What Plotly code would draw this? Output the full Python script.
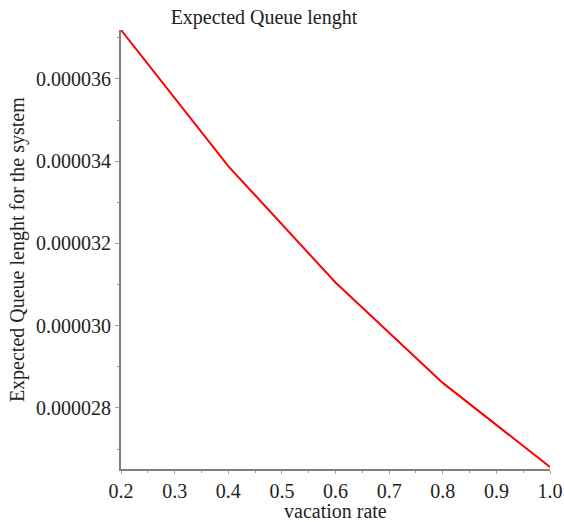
import plotly.graph_objects as go

vacation_rate = [0.2, 0.4, 0.6, 0.8, 1.0]
queue_length = [3.719e-5, 3.388e-5, 3.105e-5, 2.861e-5, 2.6565e-5]

x_ticks = [0.2, 0.3, 0.4, 0.5, 0.6, 0.7, 0.8, 0.9, 1.0]
x_tick_labels = ["0.2", "0.3", "0.4", "0.5", "0.6", "0.7", "0.8", "0.9", "1.0"]
y_ticks = [0.000028, 0.000030, 0.000032, 0.000034, 0.000036]
y_tick_labels = ["0.000028", "0.000030", "0.000032", "0.000034", "0.000036"]

title_text = "Expected Queue lenght"
x_title = "vacation rate"
y_title = "Expected Queue lenght for the system"

font_family = "Liberation Serif, Times New Roman, serif"
txt_color = "#222222"

fig = go.Figure()
fig.add_trace(go.Scatter(
    x=vacation_rate, y=queue_length, mode="lines",
    line=dict(color="#ff0000", width=2),
    showlegend=False, hoverinfo="skip",
))

axis_common = dict(
    showgrid=False, zeroline=False,
    showline=True, linecolor="#808080", linewidth=2,
    ticks="outside", tickcolor="#a0a0a0", tickwidth=1,
    tickfont=dict(family=font_family, size=20, color=txt_color),
    mirror=False, automargin=False,
)

fig.update_xaxes(
    **axis_common,
    ticklen=3,
    range=[0.2, 1.0],
    tickvals=x_ticks, ticktext=x_tick_labels,
    minor=dict(dtick=0.05, ticks="outside", ticklen=2, tickcolor="#a0a0a0", showgrid=False),
)
fig.update_yaxes(
    **axis_common,
    ticklen=4,
    range=[2.6516e-5, 3.719e-5],
    tickvals=y_ticks, ticktext=y_tick_labels,
    minor=dict(dtick=1e-6, tick0=0, ticks="outside", ticklen=2, tickcolor="#a0a0a0", showgrid=False),
)

fig.update_layout(
    width=564, height=522,
    margin=dict(l=121, r=14, t=30, b=53),
    paper_bgcolor="white", plot_bgcolor="white",
    title=dict(text=title_text, x=0.468, xanchor="center", y=0.967, yanchor="middle",
               font=dict(family=font_family, size=20, color=txt_color)),
    annotations=[
        dict(text=x_title, xref="paper", yref="paper", x=0.5, y=-0.095,
             xanchor="center", yanchor="middle", showarrow=False,
             font=dict(family=font_family, size=20, color=txt_color)),
        dict(text=y_title, xref="paper", yref="paper", x=-0.241, y=0.5,
             xanchor="center", yanchor="middle", showarrow=False, textangle=-90,
             font=dict(family=font_family, size=20, color=txt_color)),
    ],
)

fig.write_html("out.html")
